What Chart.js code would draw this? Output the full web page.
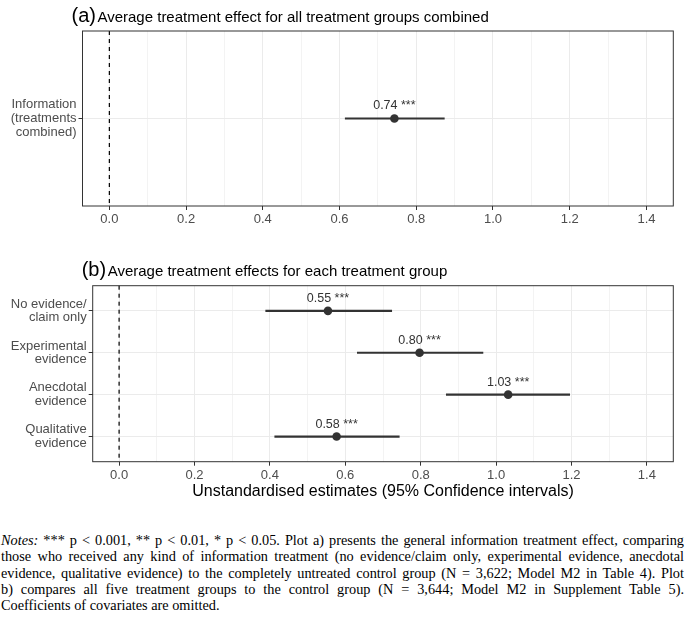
<!DOCTYPE html>
<html>
<head>
<meta charset="utf-8">
<script src="https://cdn.jsdelivr.net/npm/chart.js@4.4.1/dist/chart.umd.min.js"></script>
<style>
  html, body { margin: 0; padding: 0; background: #fff; }
  #wrap { position: relative; width: 685px; height: 619px; overflow: hidden; }
  #chartA { position: absolute; left: 0; top: 0; }
  #chartB { position: absolute; left: 0; top: 235px; }
  #notes {
    position: absolute; left: 1px; top: 532px; width: 683px;
    font-family: "Liberation Serif", "Times New Roman", serif;
    font-size: 14.3px; line-height: 16.3px; color: #000;
  }
  #notes div { text-align: justify; text-align-last: justify; white-space: nowrap; }
  #notes div.last { text-align-last: left; }
</style>
</head>
<body>
<div id="wrap">
  <canvas id="chartA" width="685" height="235"></canvas>
  <canvas id="chartB" width="685" height="270"></canvas>
  <div id="notes">
    <div><i>Notes:</i> *** p &lt; 0.001, ** p &lt; 0.01, * p &lt; 0.05. Plot a) presents the general information treatment effect, comparing</div>
    <div>those who received any kind of information treatment (no evidence/claim only, experimental evidence, anecdotal</div>
    <div>evidence, qualitative evidence) to the completely untreated control group (N = 3,622; Model M2 in Table 4). Plot</div>
    <div>b) compares all five treatment groups to the control group (N = 3,644; Model M2 in Supplement Table 5).</div>
    <div class="last">Coefficients of covariates are omitted.</div>
  </div>
</div>
<script>
// panel (a): all treatments combined
const catsA = [['Information', '(treatments', 'combined)']];
const estA = [0.743];
const loA = [0.614];
const hiA = [0.874];
const starsA = ['***'];

// panel (b): each treatment group
const catsB = [
  ['No evidence/', 'claim only'],
  ['Experimental', 'evidence'],
  ['Anecdotal', 'evidence'],
  ['Qualitative', 'evidence']
];
const estB = [0.554, 0.797, 1.032, 0.577];
const loB = [0.388, 0.631, 0.867, 0.412];
const hiB = [0.724, 0.966, 1.196, 0.744];
const starsB = ['***', '***', '***', '***'];

const xMajor = [0, 0.2, 0.4, 0.6, 0.8, 1.0, 1.2, 1.4];
const xMinor = [0.1, 0.3, 0.5, 0.7, 0.9, 1.1, 1.3];
const xMin = -0.07;
const xMax = 1.47;

const FONT = '"Liberation Sans", Arial, Helvetica, sans-serif';
const INK = '#333333';

function isMajor(v) {
  return Math.round(v * 10) % 2 === 0;
}

const panelPlugin = {
  id: 'panel',
  beforeDatasetsDraw(chart) {
    const c = chart.ctx, a = chart.chartArea;
    const x0 = chart.scales.x.getPixelForValue(0);
    c.save();
    c.strokeStyle = '#000';
    c.lineWidth = 1.2;
    c.setLineDash([4, 4]);
    c.beginPath();
    c.moveTo(x0, a.top);
    c.lineTo(x0, a.bottom);
    c.stroke();
    c.restore();
  },
  afterDatasetsDraw(chart, args, o) {
    const c = chart.ctx, a = chart.chartArea;
    const xs = chart.scales.x, ys = chart.scales.y;
    c.save();
    // value labels
    c.fillStyle = INK;
    c.font = '12.5px ' + FONT;
    c.textAlign = 'center';
    c.textBaseline = 'middle';
    o.est.forEach((v, i) => {
      c.fillText(v.toFixed(2) + ' ' + o.stars[i], xs.getPixelForValue(v), ys.getPixelForValue(i + 1) - 12.5);
    });
    // panel border
    c.strokeStyle = INK;
    c.lineWidth = 1;
    c.strokeRect(a.left, a.top, a.right - a.left, a.bottom - a.top);
    // title
    c.fillStyle = '#000';
    c.textAlign = 'left';
    c.textBaseline = 'alphabetic';
    const tx = a.left - 11, ty = a.top - 9.3;
    c.font = '20px ' + FONT;
    c.fillText(o.tag, tx, ty);
    const w = c.measureText(o.tag).width;
    c.font = '15px ' + FONT;
    c.fillText(o.title, tx + w + 1.5, ty);
    c.restore();
  }
};

function makeChart(id, cats, est, lo, hi, stars, cfg) {
  const datasets = cats.map((c, i) => ({
    data: [{ x: lo[i], y: i + 1 }, { x: hi[i], y: i + 1 }],
    showLine: true,
    borderColor: INK,
    borderWidth: 2.2,
    pointRadius: 0
  }));
  datasets.push({
    data: est.map((v, i) => ({ x: v, y: i + 1 })),
    pointRadius: 4.3,
    backgroundColor: INK,
    borderWidth: 0
  });
  return new Chart(document.getElementById(id), {
    type: 'scatter',
    data: { datasets: datasets },
    options: {
      responsive: false,
      animation: false,
      devicePixelRatio: 1,
      layout: { padding: { top: cfg.top, right: 11.7, left: 0, bottom: 0 } },
      plugins: {
        legend: { display: false },
        tooltip: { enabled: false },
        panel: { est: est, stars: stars, tag: cfg.tag, title: cfg.title }
      },
      scales: {
        x: {
          type: 'linear',
          min: xMin,
          max: xMax,
          afterBuildTicks: s => {
            s.ticks = xMajor.concat(xMinor).sort((p, q) => p - q).map(v => ({ value: v }));
          },
          afterFit: s => { s.height = cfg.xHeight; },
          border: { display: false },
          grid: {
            color: c => isMajor(c.tick.value) ? '#ebebeb' : '#f3f3f3',
            lineWidth: 1,
            tickLength: 4,
            tickWidth: 1,
            tickColor: c => isMajor(c.tick.value) ? INK : 'rgba(0,0,0,0)'
          },
          ticks: {
            autoSkip: false,
            maxRotation: 0,
            padding: 2,
            color: '#4d4d4d',
            font: { family: FONT, size: 13 },
            callback: v => isMajor(v) ? v.toFixed(1) : ''
          },
          title: {
            display: !!cfg.xTitle,
            text: cfg.xTitle || '',
            color: '#000',
            font: { family: FONT, size: 16 },
            padding: { top: 0, bottom: 3.4 }
          }
        },
        y: {
          type: 'linear',
          reverse: true,
          min: 0.4,
          max: cats.length + 0.6,
          afterBuildTicks: s => {
            s.ticks = cats.map((c, i) => ({ value: i + 1 }));
          },
          afterFit: s => { s.width = cfg.yWidth; },
          border: { display: false },
          grid: {
            color: '#ebebeb',
            lineWidth: 1,
            tickLength: 4,
            tickWidth: 1,
            tickColor: INK
          },
          ticks: {
            autoSkip: false,
            padding: 2,
            color: '#4d4d4d',
            font: { family: FONT, size: 13, lineHeight: 1.05 },
            callback: v => cats[Math.round(v) - 1]
          }
        }
      }
    },
    plugins: [panelPlugin]
  });
}

makeChart('chartA', catsA, estA, loA, hiA, starsA, {
  top: 31, xHeight: 29, yWidth: 82.5,
  tag: '(a)', title: 'Average treatment effect for all treatment groups combined'
});
makeChart('chartB', catsB, estB, loB, hiB, starsB, {
  top: 50.7, xHeight: 43.3, yWidth: 92.7,
  tag: '(b)', title: 'Average treatment effects for each treatment group',
  xTitle: 'Unstandardised estimates (95% Confidence intervals)'
});
</script>
</body>
</html>
